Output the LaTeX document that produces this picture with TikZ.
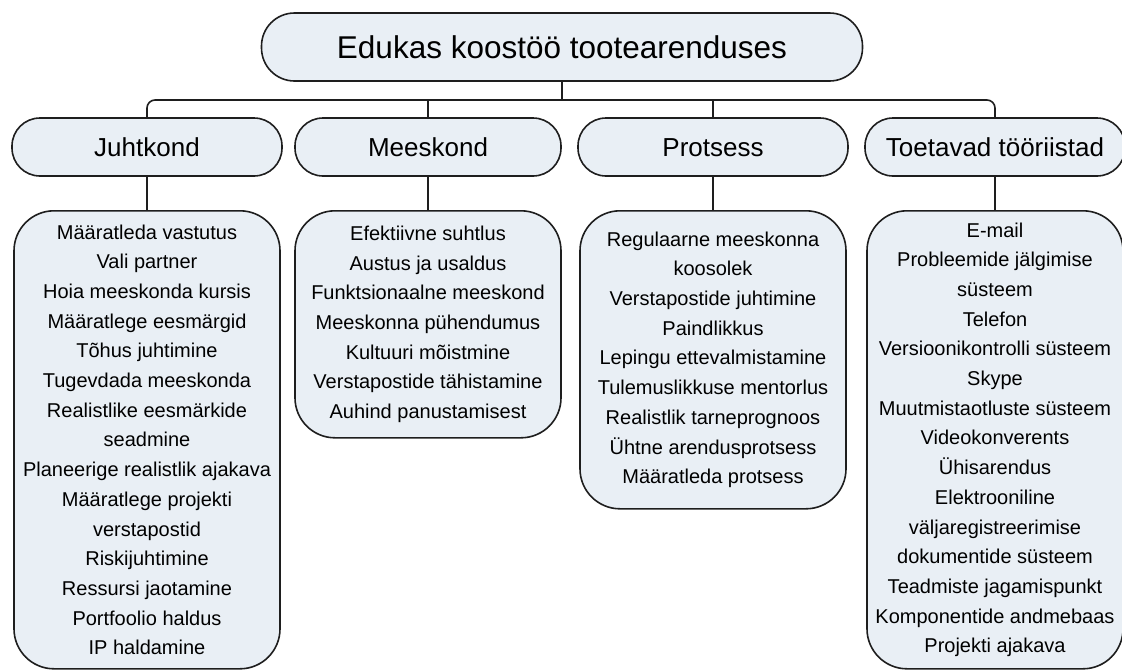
\documentclass[tikz,border=0pt]{standalone}
\usepackage{fontspec}
\setmainfont{Liberation Sans}
\definecolor{boxfill}{RGB}{233,239,245}
\definecolor{boxline}{RGB}{30,30,30}
\begin{document}
\begin{tikzpicture}[x=1pt,y=-1pt,
  rootbox/.style={draw=boxline,line width=1.6pt,fill=boxfill,rounded corners=33pt,
    minimum width=601pt,minimum height=68pt,font=\fontsize{31.5}{36}\selectfont},
  headbox/.style={draw=boxline,line width=1.6pt,fill=boxfill,rounded corners=28pt,
    minimum height=58pt,text height=23pt,text depth=3.5pt,font=\fontsize{26}{30}\selectfont},
  listbox/.style={draw=boxline,line width=1.6pt,fill=boxfill,rounded corners=40pt,
    minimum width=266pt,anchor=north,align=center,font=\fontsize{20}{29.7}\selectfont},
  conn/.style={draw=boxline,line width=1.6pt}
]
  \useasboundingbox (0,0) rectangle (1122,670);
  \clip (0,0) rectangle (1122,670);
  \node[rootbox] (root) at (562,47) {Edukas koostöö tootearenduses};
  \node[headbox,minimum width=270pt] (juht) at (147,147) {Juhtkond};
  \node[headbox,minimum width=266pt] (mees) at (428,147) {Meeskond};
  \node[headbox,minimum width=270pt] (prots) at (713,147) {Protsess};
  \node[headbox,minimum width=260pt] (toet) at (995,147) {Toetavad tööriistad};
  % Lists below
  \node[listbox,minimum height=458pt] (juhtL) at (147,210) {Määratleda vastutus\\Vali partner\\Hoia meeskonda kursis\\Määratlege eesmärgid\\Tõhus juhtimine\\Tugevdada meeskonda\\Realistlike eesmärkide\\seadmine\\Planeerige realistlik ajakava\\Määratlege projekti\\verstapostid\\Riskijuhtimine\\Ressursi jaotamine\\Portfoolio haldus\\IP haldamine};
  \node[listbox,minimum height=227pt] (meesL) at (428,210) {Efektiivne suhtlus\\Austus ja usaldus\\Funktsionaalne meeskond\\Meeskonna pühendumus\\Kultuuri mõistmine\\Verstapostide tähistamine\\Auhind panustamisest};
  \node[listbox,minimum height=298pt] (protsL) at (713,210) {Regulaarne meeskonna\\koosolek\\Verstapostide juhtimine\\Paindlikkus\\Lepingu ettevalmistamine\\Tulemuslikkuse mentorlus\\Realistlik tarneprognoos\\Ühtne arendusprotsess\\Määratleda protsess};
  \node[listbox,minimum width=256pt,minimum height=458pt] (toetL) at (995,210) {E-mail\\Probleemide jälgimise\\süsteem\\Telefon\\Versioonikontrolli süsteem\\Skype\\Muutmistaotluste süsteem\\Videokonverents\\Ühisarendus\\Elektrooniline\\väljaregistreerimise\\dokumentide süsteem\\Teadmiste jagamispunkt\\Komponentide andmebaas\\Projekti ajakava};
  \coordinate (bus) at (562,100);
  \draw[conn] (root.south) -- (bus);
  \draw[conn,rounded corners=8pt] (juht.north) |- (bus) -| (toet.north);
  \draw[conn] (mees.north) -- (mees.north |- bus);
  \draw[conn] (prots.north) -- (prots.north |- bus);
  \draw[conn] (juht.south) -- (juhtL.north);
  \draw[conn] (mees.south) -- (meesL.north);
  \draw[conn] (prots.south) -- (protsL.north);
  \draw[conn] (toet.south) -- (toetL.north);
\end{tikzpicture}
\end{document}
